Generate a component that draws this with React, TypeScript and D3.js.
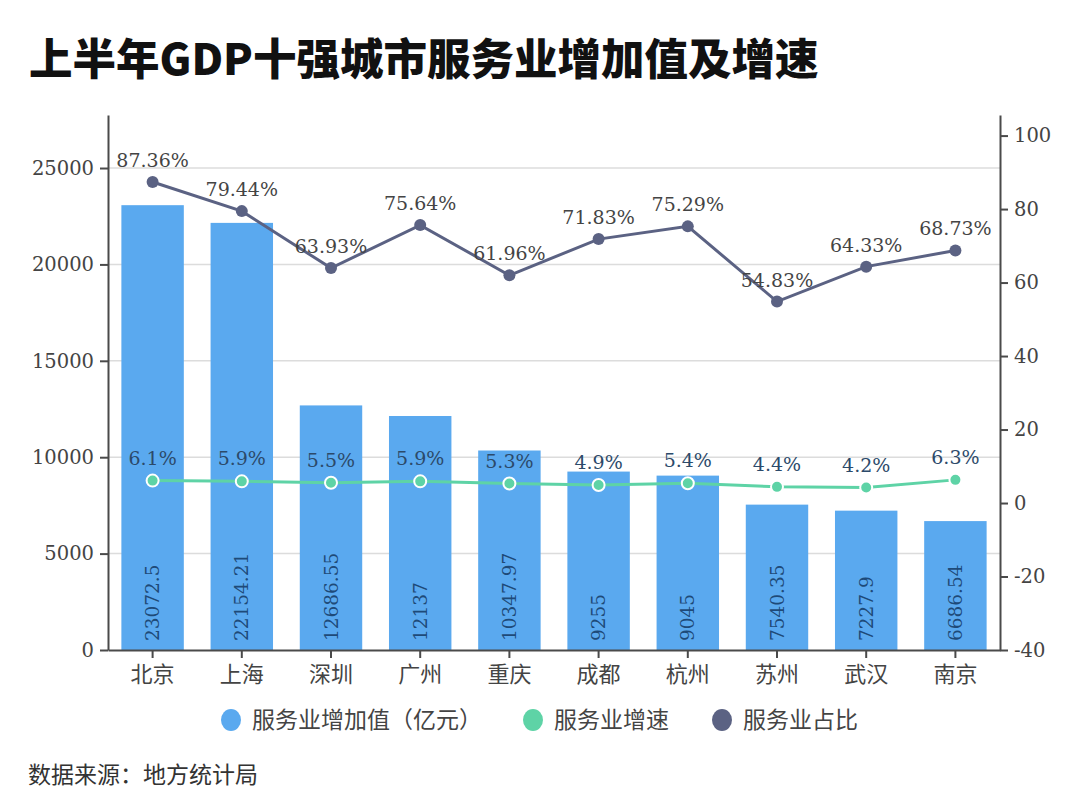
import { useEffect, useRef } from "react";
import * as d3 from "d3";

// Data
const cities = ["北京", "上海", "深圳", "广州", "重庆", "成都", "杭州", "苏州", "武汉", "南京"];
const addedValue = [23072.5, 22154.21, 12686.55, 12137, 10347.97, 9255, 9045, 7540.35, 7227.9, 6686.54];
const growthRate = [6.1, 5.9, 5.5, 5.9, 5.3, 4.9, 5.4, 4.4, 4.2, 6.3];
const shareRate = [87.36, 79.44, 63.93, 75.64, 61.96, 71.83, 75.29, 54.83, 64.33, 68.73];
const leftTicks = [0, 5000, 10000, 15000, 20000, 25000];
const rightTicks = [-40, -20, 0, 20, 40, 60, 80, 100];
const legendLabels = ["服务业增加值（亿元）", "服务业增速", "服务业占比"];

const BAR_COLOR = "#5aa9ef";
const GREEN = "#5ed3a6";
const DARK = "#5b6283";
const TEXT = "#444";
const FONT = "'DejaVu Serif', 'Noto Sans CJK SC', serif";
const CJK = "'Noto Sans CJK SC', sans-serif";

export default function App() {
    const svgRef = useRef<SVGSVGElement>(null);

    useEffect(() => {
        if (!svgRef.current) return;
        document.body.style.margin = "0";

        d3.select(svgRef.current).selectAll("*").remove();

        const W = 1080;
        const H = 789;
        const left = 108;
        const right = 1000;
        const top = 115;
        const bottom = 650;

        const svg = d3.select(svgRef.current).attr("width", W).attr("height", H);
        svg.append("rect").attr("width", W).attr("height", H).attr("fill", "#fff");

        // Title
        svg.append("text")
            .attr("x", 29)
            .attr("y", 75)
            .attr("font-family", CJK)
            .attr("font-weight", 900)
            .attr("font-size", 43.5)
            .attr("fill", "#111")
            .text("上半年GDP十强城市服务业增加值及增速");

        // Scales
        const x = d3.scaleBand().domain(cities).range([left, right]).paddingInner(0.3).paddingOuter(0.15);
        const yL = d3.scaleLinear().domain([0, 27750]).range([bottom, top]);
        const yR = d3.scaleLinear().domain([-40, 105.6]).range([bottom, top]);
        const cx = (c: string) => (x(c) ?? 0) + x.bandwidth() / 2;

        // Grid
        svg.append("g")
            .selectAll("line")
            .data(leftTicks.filter((t) => t > 0))
            .join("line")
            .attr("x1", left)
            .attr("x2", right)
            .attr("y1", (d) => yL(d))
            .attr("y2", (d) => yL(d))
            .attr("stroke", "#dcdcdc")
            .attr("stroke-width", 1.5);

        // Bars
        svg.append("g")
            .selectAll("rect")
            .data(cities)
            .join("rect")
            .attr("x", (d) => x(d) ?? 0)
            .attr("y", (d, i) => yL(addedValue[i]))
            .attr("width", x.bandwidth())
            .attr("height", (d, i) => bottom - yL(addedValue[i]))
            .attr("fill", BAR_COLOR);

        // Bar value labels (rotated)
        svg.append("g")
            .selectAll("text")
            .data(cities)
            .join("text")
            .attr("transform", (d) => `translate(${cx(d)},${bottom - 9}) rotate(-90)`)
            .attr("dominant-baseline", "central")
            .attr("font-family", FONT)
            .attr("font-size", 18.5)
            .attr("fill", "#1e4a78")
            .text((d, i) => String(addedValue[i]));

        // Axes
        const axisStyle = (g: d3.Selection<SVGGElement, unknown, null, undefined>) => {
            g.selectAll("path").attr("stroke", "#4a4a4a").attr("stroke-width", 2);
            g.selectAll("line").attr("stroke", "#4a4a4a").attr("stroke-width", 2);
            g.selectAll("text").attr("font-family", FONT).attr("font-size", 19.5).attr("fill", TEXT);
        };

        const gLeft = svg.append("g")
            .attr("transform", `translate(${left},0)`)
            .call(d3.axisLeft(yL).tickValues(leftTicks).tickFormat((d) => String(d)).tickSize(8).tickSizeOuter(0).tickPadding(6));
        axisStyle(gLeft);

        const gRight = svg.append("g")
            .attr("transform", `translate(${right},0)`)
            .call(d3.axisRight(yR).tickValues(rightTicks).tickFormat((d) => String(d)).tickSize(8).tickSizeOuter(0).tickPadding(6));
        axisStyle(gRight);

        const gBottom = svg.append("g")
            .attr("transform", `translate(0,${bottom})`)
            .call(d3.axisBottom(x).tickSize(8).tickSizeOuter(0).tickPadding(8));
        axisStyle(gBottom);
        gBottom.selectAll("text").attr("font-family", CJK).attr("font-size", 22);

        // Share line
        const shareLine = d3.line<number>().x((d, i) => cx(cities[i])).y((d) => yR(d));
        svg.append("path").datum(shareRate).attr("d", shareLine).attr("fill", "none").attr("stroke", DARK).attr("stroke-width", 3);
        svg.append("g")
            .selectAll("circle")
            .data(shareRate)
            .join("circle")
            .attr("cx", (d, i) => cx(cities[i]))
            .attr("cy", (d) => yR(d))
            .attr("r", 6)
            .attr("fill", DARK);
        svg.append("g")
            .selectAll("text")
            .data(shareRate)
            .join("text")
            .attr("x", (d, i) => cx(cities[i]))
            .attr("y", (d) => yR(d) - 15)
            .attr("text-anchor", "middle")
            .attr("font-family", FONT)
            .attr("font-size", 19)
            .attr("fill", TEXT)
            .text((d) => `${d.toFixed(2)}%`);

        // Growth line
        const growthLine = d3.line<number>().x((d, i) => cx(cities[i])).y((d) => yR(d));
        svg.append("path").datum(growthRate).attr("d", growthLine).attr("fill", "none").attr("stroke", GREEN).attr("stroke-width", 3);
        svg.append("g")
            .selectAll("circle")
            .data(growthRate)
            .join("circle")
            .attr("cx", (d, i) => cx(cities[i]))
            .attr("cy", (d) => yR(d))
            .attr("r", 6)
            .attr("fill", GREEN)
            .attr("stroke", "#fff")
            .attr("stroke-width", 2);
        svg.append("g")
            .selectAll("text")
            .data(growthRate)
            .join("text")
            .attr("x", (d, i) => cx(cities[i]))
            .attr("y", (d) => yR(d) - 16)
            .attr("text-anchor", "middle")
            .attr("font-family", FONT)
            .attr("font-size", 19)
            .attr("fill", "#2c4a6a")
            .text((d) => `${d.toFixed(1)}%`);

        // Legend
        const legendItems = [
            { label: legendLabels[0], color: BAR_COLOR, x: 231 },
            { label: legendLabels[1], color: GREEN, x: 533 },
            { label: legendLabels[2], color: DARK, x: 722 },
        ];
        legendItems.forEach((item) => {
            svg.append("ellipse").attr("cx", item.x).attr("cy", 720).attr("rx", 10).attr("ry", 11).attr("fill", item.color);
            svg.append("text")
                .attr("x", item.x + 21)
                .attr("y", 728)
                .attr("font-family", CJK)
                .attr("font-size", 23)
                .attr("fill", TEXT)
                .text(item.label);
        });

        // Source
        svg.append("text")
            .attr("x", 28)
            .attr("y", 783)
            .attr("font-family", CJK)
            .attr("font-size", 23)
            .attr("fill", "#333")
            .text("数据来源：地方统计局");
    }, []);

    return <svg ref={svgRef} style={{ display: "block" }} />;
}
